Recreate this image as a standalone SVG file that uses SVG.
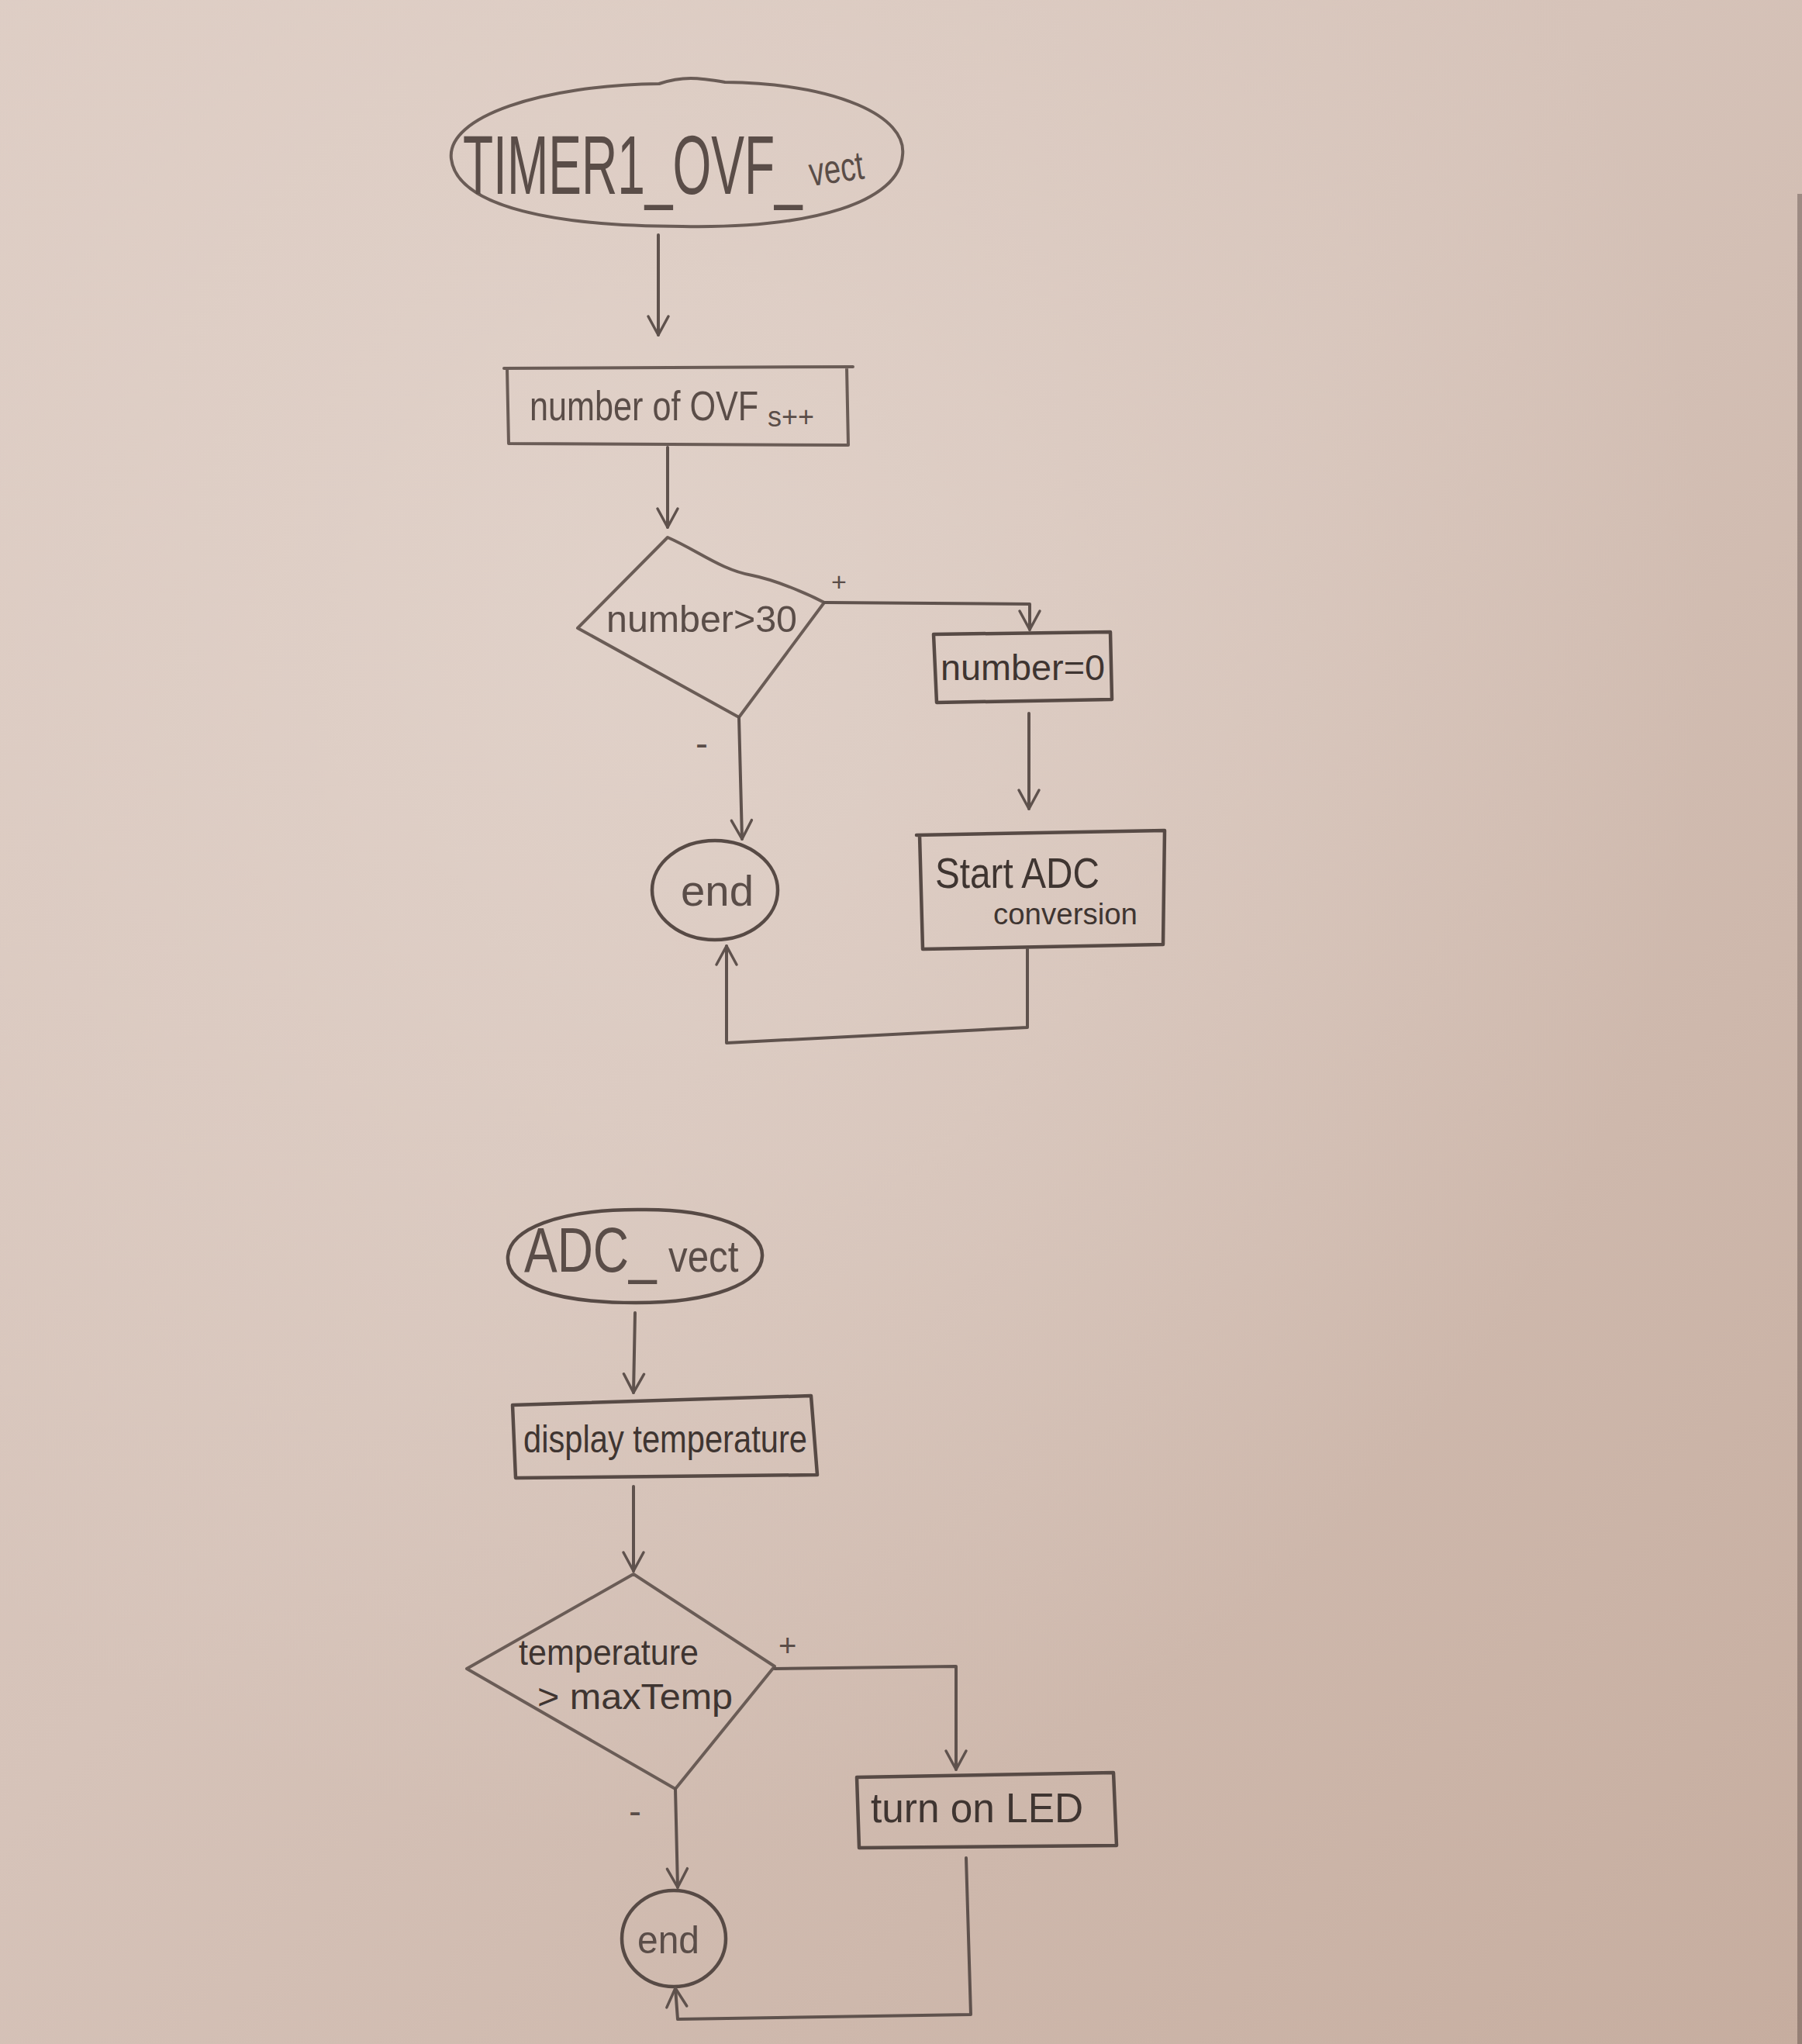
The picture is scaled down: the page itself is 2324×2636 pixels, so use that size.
<svg xmlns="http://www.w3.org/2000/svg" width="2324" height="2636" viewBox="0 0 2324 2636">
<defs>
<linearGradient id="paper" x1="0" y1="0" x2="1" y2="1">
<stop offset="0" stop-color="#ddccc3"/>
<stop offset="0.45" stop-color="#d6c3b9"/>
<stop offset="1" stop-color="#c6ad9f"/>
</linearGradient>
<radialGradient id="light" cx="0.35" cy="0.3" r="0.6">
<stop offset="0" stop-color="#e4d6ce" stop-opacity="0.7"/>
<stop offset="1" stop-color="#e4d6ce" stop-opacity="0"/>
</radialGradient>
<marker id="v" viewBox="-30 -18 36 36" markerWidth="36" markerHeight="36" markerUnits="userSpaceOnUse" refX="0" refY="0" orient="auto">
<path d="M-24,-13 L0,0 L-24,13" fill="none" stroke="#5f524d" stroke-width="3.5" stroke-linecap="round" stroke-linejoin="round"/>
</marker>
<style>
.s{fill:none;stroke:#6a5c56;stroke-width:4;stroke-linejoin:round;stroke-linecap:round}
.d{fill:none;stroke:#574a45;stroke-width:4.5;stroke-linejoin:round;stroke-linecap:round}
.c{fill:none;stroke:#5f524d;stroke-width:4;stroke-linecap:round;stroke-linejoin:round}
.t{font-family:"Liberation Sans","DejaVu Sans",sans-serif;fill:#5a4d48}
.k{font-family:"Liberation Sans","DejaVu Sans",sans-serif;fill:#3f3531}
</style>
</defs>
<rect width="2324" height="2636" fill="url(#paper)"/>
<rect width="2324" height="2636" fill="url(#light)"/>
<rect x="2318" y="250" width="6" height="2386" fill="#3a2c27" opacity="0.35"/>

<g id="timer1_ovf_vect">
<path class="s" d="M582,205 C575,150 700,110 850,108 C880,98 900,100 935,106 C1080,108 1170,150 1164,200 C1160,260 1050,295 880,292 C720,292 590,268 582,205 Z"/>
<text class="t" transform="translate(597,250) scale(0.593,1)" font-size="108">TIMER1_OVF_</text>
<text class="t" transform="translate(1046,240) rotate(-8) scale(0.74,1)" font-size="52">vect</text>
</g>

<g id="number_of_ovfs">
<path class="s" d="M650,475 L1100,473 M654,475 L656,572 L1094,574 L1092,474"/>
<text class="t" transform="translate(683,542) scale(0.8,1)" font-size="54">number of OVF</text>
<text class="t" x="990" y="550" font-size="36">s++</text>
</g>

<g id="decision_number_gt_30">
<path class="s" d="M861,693 C900,710 930,735 970,742 C1000,748 1040,765 1063,777 L953,925 L745,810 Z"/>
<text class="t" x="782" y="815" font-size="48" textLength="246" lengthAdjust="spacingAndGlyphs">number&gt;30</text>
</g>

<g id="number_eq_0">
<path class="d" d="M1204,818 L1432,815 L1434,902 L1208,906 Z"/>
<text class="k" x="1213" y="877" font-size="46" textLength="212" lengthAdjust="spacingAndGlyphs">number=0</text>
</g>

<g id="start_adc_conversion">
<path class="d" d="M1182,1077 L1502,1071 L1500,1218 L1190,1224 L1186,1077"/>
<text class="k" x="1206" y="1145" font-size="56" textLength="212" lengthAdjust="spacingAndGlyphs">Start ADC</text>
<text class="k" x="1281" y="1192" font-size="38" textLength="186" lengthAdjust="spacingAndGlyphs">conversion</text>
</g>

<g id="end1">
<ellipse class="d" cx="922" cy="1148" rx="81" ry="64"/>
<text class="t" x="878" y="1168" font-size="56" textLength="94" lengthAdjust="spacingAndGlyphs">end</text>
</g>

<g id="adc_vect">
<path class="d" d="M822,1560 C920,1558 985,1585 983,1620 C982,1655 920,1680 820,1680 C720,1680 652,1660 655,1620 C658,1585 720,1560 822,1560 Z"/>
<text class="t" transform="translate(676,1640) scale(0.78,1)" font-size="82">ADC_</text>
<text class="t" transform="translate(862,1640) scale(0.85,1)" font-size="58">vect</text>
</g>

<g id="display_temperature">
<path class="d" d="M661,1812 L1046,1800 L1054,1902 L665,1906 Z"/>
<text class="k" x="675" y="1873" font-size="50" textLength="366" lengthAdjust="spacingAndGlyphs">display temperature</text>
</g>

<g id="decision_temperature">
<path class="s" d="M817,2030 L999,2149 L871,2307 L602,2152 Z"/>
<text class="k" x="669" y="2147" font-size="46" textLength="232" lengthAdjust="spacingAndGlyphs">temperature</text>
<text class="k" x="693" y="2204" font-size="46" textLength="252" lengthAdjust="spacingAndGlyphs">&gt; maxTemp</text>
</g>

<g id="turn_on_led">
<path class="d" d="M1105,2292 L1436,2286 L1440,2380 L1108,2383 Z"/>
<text class="k" x="1123" y="2350" font-size="54" textLength="274" lengthAdjust="spacingAndGlyphs">turn on LED</text>
</g>

<g id="end2">
<ellipse class="d" cx="869" cy="2500" rx="67" ry="62"/>
<text class="t" x="822" y="2519" font-size="50" textLength="80" lengthAdjust="spacingAndGlyphs">end</text>
</g>

<g id="connectors">
<path class="c" d="M849,303 L849,432" marker-end="url(#v)"/>
<path class="c" d="M861,577 L861,680" marker-end="url(#v)"/>
<path class="c" d="M1063,777 L1328,779 L1328,812" marker-end="url(#v)"/>
<path class="c" d="M1327,920 L1327,1043" marker-end="url(#v)"/>
<path class="c" d="M953,925 L957,1082" marker-end="url(#v)"/>
<path class="c" d="M1325,1224 L1325,1325 L937,1345 L937,1220" marker-end="url(#v)"/>
<path class="c" d="M819,1693 L817,1796" marker-end="url(#v)"/>
<path class="c" d="M817,1917 L817,2026" marker-end="url(#v)"/>
<path class="c" d="M999,2152 L1233,2149 L1233,2282" marker-end="url(#v)"/>
<path class="c" d="M871,2307 L874,2434" marker-end="url(#v)"/>
<path class="c" d="M1246,2396 L1252,2598 L874,2604 L871,2564" marker-end="url(#v)"/>
<text class="t" x="1072" y="762" font-size="34">+</text>
<text class="t" x="897" y="975" font-size="48">-</text>
<text class="t" x="1004" y="2136" font-size="40">+</text>
<text class="t" x="811" y="2352" font-size="48">-</text>
</g>
</svg>
